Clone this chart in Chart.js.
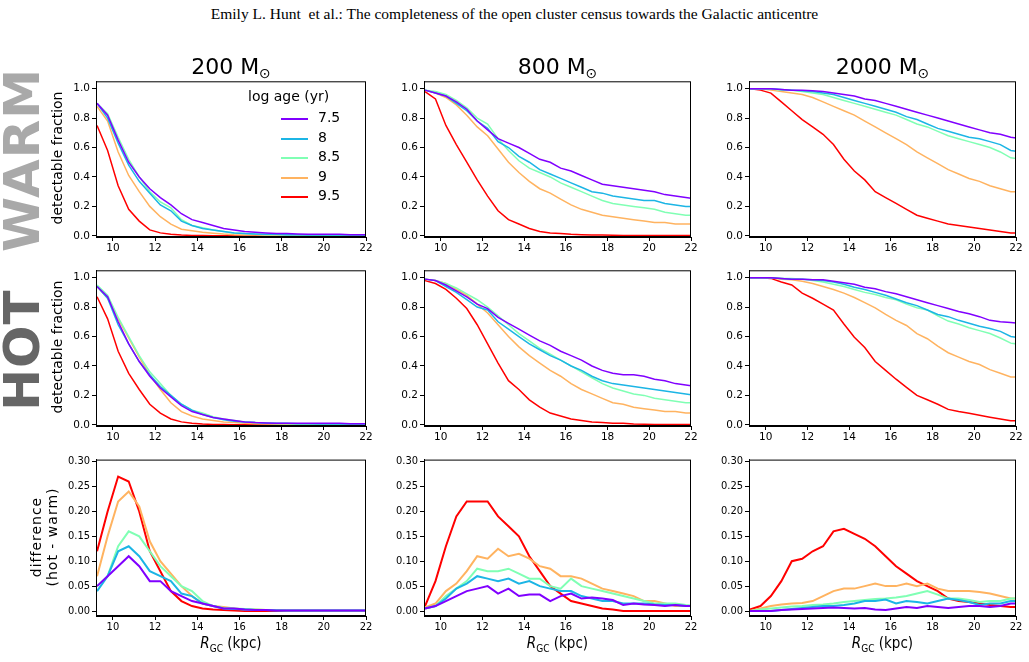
<!DOCTYPE html>
<html><head><meta charset="utf-8">
<script src="https://cdn.jsdelivr.net/npm/chart.js@4"></script>
<style>
body{margin:0;width:1029px;height:662px;background:#fff;position:relative;overflow:hidden;font-family:"DejaVu Sans",sans-serif}
canvas{position:absolute}
.t{position:absolute;white-space:nowrap;color:#000}
.rot{transform:translate(-50%,-50%) rotate(-90deg);transform-origin:center}
</style></head><body>
<div class="t" style="left:0;width:1029px;top:5px;text-align:center;font-family:'Liberation Serif',serif;font-size:15.5px">Emily L. Hunt&nbsp; et al.: The completeness of the open cluster census towards the Galactic anticentre</div>
<script>
const radii=[9.25,9.75,10.25,10.75,11.25,11.75,12.25,12.75,13.25,13.75,14.25,14.75,15.25,15.75,16.25,16.75,17.25,17.75,18.25,18.75,19.25,19.75,20.25,20.75,21.25,21.75,22.25];
const ages=["7.5","8","8.5","9","9.5"];
const colors=["#8000ff","#1cb5e5","#80ffb4","#ffb360","#ff0000"];
const xTicks=[10,12,14,16,18,20,22];
const fracTicks=[0,0.2,0.4,0.6,0.8,1.0];
const diffTicks=[0,0.05,0.10,0.15,0.20,0.25,0.30];
const massTitles=["200","800","2000"];

const warm200=[
[.90,.82,.65,.50,.40,.32,.26,.21,.15,.11,.09,.07,.05,.04,.03,.025,.02,.015,.015,.012,.01,.01,.01,.01,.008,.008,.008],
[.90,.80,.63,.48,.37,.29,.21,.17,.10,.07,.05,.04,.03,.02,.015,.012,.01,.01,.008,.007,.006,.005,.005,.005,.005,.005,.005],
[.90,.83,.67,.52,.40,.30,.23,.19,.11,.07,.055,.04,.03,.02,.015,.01,.008,.007,.006,.005,.005,.005,.004,.004,.004,.004,.004],
[.88,.78,.57,.41,.30,.20,.13,.08,.045,.035,.025,.018,.012,.008,.006,.005,.004,.004,.003,.003,.003,.003,.003,.003,.003,.003,.003],
[.75,.58,.34,.18,.10,.04,.02,.01,.005,.003,.002,.001,.001,0,0,0,0,0,0,0,0,0,0,0,0,0,0]];
const hot200=[
[.94,.87,.70,.55,.43,.33,.25,.19,.13,.09,.07,.05,.04,.03,.02,.015,.012,.01,.01,.01,.01,.01,.01,.01,.008,.008,.008],
[.94,.86,.68,.55,.43,.34,.26,.20,.14,.10,.07,.05,.035,.025,.02,.015,.012,.01,.01,.008,.007,.006,.006,.005,.005,.005,.005],
[.95,.88,.73,.60,.47,.36,.28,.20,.14,.10,.08,.055,.04,.03,.02,.015,.01,.008,.007,.006,.005,.005,.005,.004,.004,.004,.004],
[.94,.86,.72,.59,.46,.34,.24,.15,.09,.06,.04,.03,.02,.015,.01,.008,.006,.005,.004,.004,.003,.003,.003,.003,.003,.003,.003],
[.87,.72,.50,.35,.24,.14,.08,.04,.02,.01,.005,.003,.002,.001,0,0,0,0,0,0,0,0,0,0,0,0,0]];
const diff200=[
[.05,.07,.09,.11,.09,.06,.06,.04,.03,.02,.015,.01,.005,.005,.003,.002,.002,.001,.001,.001,.001,.001,.001,.001,.001,.001,.001],
[.04,.07,.12,.13,.11,.08,.07,.06,.035,.03,.015,.01,.005,.004,.003,.002,.002,.001,.001,.001,.001,.001,.001,.001,.001,.001,.001],
[.05,.07,.13,.16,.15,.12,.09,.07,.05,.04,.02,.01,.006,.005,.004,.003,.002,.002,.001,.001,.001,.001,.001,.001,.001,.001,.001],
[.07,.15,.22,.24,.21,.14,.10,.075,.05,.03,.015,.01,.008,.005,.003,.003,.002,.002,.001,.001,.001,.001,.001,.001,.001,.001,.001],
[.12,.20,.27,.26,.20,.12,.08,.04,.02,.01,.005,.003,.002,.001,0,0,0,0,0,0,0,0,0,0,0,0,0]];

const warm800=[
[.99,.97,.95,.91,.86,.78,.72,.66,.63,.60,.56,.52,.50,.46,.44,.41,.38,.35,.34,.33,.32,.31,.30,.28,.27,.26,.25],
[.99,.97,.95,.90,.85,.78,.73,.64,.60,.54,.50,.45,.42,.39,.36,.33,.30,.29,.27,.26,.25,.24,.24,.22,.21,.20,.20],
[.99,.98,.96,.92,.87,.80,.76,.66,.58,.51,.46,.43,.40,.36,.33,.30,.27,.24,.22,.21,.20,.19,.18,.16,.15,.14,.14],
[.99,.97,.94,.89,.82,.74,.68,.59,.50,.43,.37,.32,.29,.25,.21,.18,.16,.14,.13,.12,.11,.10,.09,.09,.08,.08,.08],
[.98,.93,.75,.62,.50,.38,.27,.17,.11,.08,.05,.03,.02,.015,.01,.008,.006,.005,.004,.003,.003,.002,.002,.002,.002,.002,.002]];
const hot800=[
[.99,.98,.95,.91,.87,.82,.79,.73,.69,.65,.61,.57,.54,.50,.47,.44,.40,.37,.35,.34,.34,.33,.31,.30,.28,.27,.26],
[.99,.98,.94,.90,.85,.80,.78,.70,.65,.60,.55,.51,.47,.44,.40,.37,.33,.30,.28,.27,.26,.25,.24,.23,.22,.21,.20],
[.99,.98,.96,.93,.89,.85,.80,.74,.68,.62,.57,.52,.48,.44,.40,.36,.32,.28,.25,.23,.21,.20,.18,.17,.16,.15,.15],
[.99,.98,.96,.92,.88,.82,.76,.68,.60,.53,.47,.42,.37,.33,.28,.24,.21,.18,.15,.14,.12,.11,.10,.09,.09,.08,.08],
[.98,.96,.92,.86,.79,.68,.55,.42,.30,.24,.17,.12,.08,.06,.04,.03,.02,.015,.01,.01,.005,.004,.003,.003,.002,.002,.002]];
const diff800=[
[.005,.01,.02,.03,.04,.045,.05,.035,.045,.03,.033,.033,.02,.03,.035,.025,.027,.025,.022,.012,.015,.013,.012,.01,.012,.01,.01],
[.005,.01,.025,.045,.055,.07,.065,.06,.065,.055,.06,.05,.045,.04,.04,.03,.025,.02,.02,.015,.015,.015,.013,.012,.012,.01,.01],
[.005,.01,.03,.045,.06,.085,.08,.08,.085,.075,.065,.065,.05,.045,.065,.05,.045,.04,.035,.03,.025,.02,.015,.015,.015,.012,.01],
[.007,.015,.04,.055,.08,.11,.105,.125,.11,.115,.105,.09,.085,.07,.07,.065,.055,.045,.04,.035,.03,.02,.02,.015,.01,.01,.01],
[.01,.06,.13,.19,.22,.22,.22,.19,.17,.15,.11,.08,.05,.035,.02,.015,.01,.005,.003,0,0,0,0,0,0,0,0]];

const warm2000=[
[1,1,1,.995,.99,.99,.985,.98,.97,.96,.95,.93,.92,.90,.88,.86,.84,.82,.80,.78,.76,.74,.72,.70,.69,.67,.66],
[1,1,1,.995,.99,.985,.98,.97,.96,.94,.92,.90,.88,.86,.84,.81,.79,.76,.73,.71,.69,.67,.66,.64,.62,.58,.57],
[1,1,1,.99,.99,.98,.97,.96,.94,.92,.90,.88,.86,.84,.82,.79,.76,.74,.71,.68,.66,.64,.62,.60,.57,.53,.52],
[1,1,.99,.98,.97,.96,.94,.91,.88,.85,.82,.78,.74,.70,.66,.62,.57,.53,.49,.45,.42,.39,.37,.34,.32,.30,.30],
[1,.99,.97,.91,.85,.79,.74,.69,.62,.52,.44,.38,.30,.26,.22,.18,.14,.12,.10,.08,.07,.06,.05,.04,.03,.02,.02]];
const hot2000=[
[1,1,1,.995,.99,.99,.985,.985,.975,.965,.955,.935,.925,.905,.89,.87,.85,.83,.81,.79,.77,.755,.735,.71,.70,.695,.69],
[1,1,1,.995,.99,.99,.985,.98,.97,.955,.935,.92,.90,.88,.855,.83,.81,.78,.75,.735,.71,.69,.67,.655,.635,.60,.59],
[1,1,1,.995,.995,.99,.98,.97,.955,.94,.92,.90,.885,.865,.85,.82,.795,.78,.74,.705,.685,.66,.64,.62,.59,.555,.545],
[1,1,1,.99,.985,.975,.96,.94,.92,.895,.865,.83,.795,.75,.71,.675,.62,.585,.535,.49,.46,.43,.41,.375,.35,.325,.325],
[1,1,.995,.97,.95,.895,.86,.82,.78,.685,.595,.525,.43,.37,.31,.255,.2,.17,.14,.105,.09,.078,.065,.052,.04,.028,.028]];
const diff2000=[
[0,0,0,.002,.003,.004,.005,.006,.007,.006,.005,.006,.003,.002,.005,.008,.006,.01,.008,.006,.008,.01,.01,.008,.01,.015,.015],
[0,0,0,.002,.004,.006,.008,.01,.01,.012,.015,.02,.02,.023,.015,.02,.018,.015,.02,.025,.022,.018,.012,.015,.015,.02,.02],
[0,.003,.005,.007,.009,.01,.012,.013,.015,.018,.02,.022,.024,.025,.027,.03,.035,.04,.033,.025,.025,.022,.018,.02,.02,.025,.025],
[0,.005,.01,.013,.015,.016,.02,.03,.04,.045,.045,.05,.055,.05,.05,.055,.05,.055,.045,.04,.04,.04,.038,.035,.03,.025,.025],
[.003,.01,.03,.06,.10,.105,.12,.13,.16,.165,.155,.145,.13,.11,.09,.075,.06,.05,.04,.025,.02,.018,.015,.012,.01,.008,.008]];

const colX=[[96,366],[424,691],[749,1016]];
const rowY=[[79,237],[268,426],[457,616]];
const panels=[[warm200,warm800,warm2000],[hot200,hot800,hot2000],[diff200,diff800,diff2000]];

const frame={id:'frame',afterDraw(c){const a=c.chartArea,x=c.ctx;x.save();x.strokeStyle='#000';x.lineWidth=1;x.strokeRect(a.left+.5,a.top+.5,a.right-a.left-1,a.bottom-a.top-1);x.restore();}};
const YW=40,XH=20,PT=6,PR=8;
for(let r=0;r<3;r++)for(let c=0;c<3;c++){
  const [l,rt]=colX[c],[tp,bt]=rowY[r];
  const cv=document.createElement('canvas');
  const w=rt-l+YW+PR,h=bt-tp+PT+XH;
  cv.style.left=(l-YW)+'px';cv.style.top=(tp-PT)+'px';cv.style.width=w+'px';cv.style.height=h+'px';
  cv.width=w;cv.height=h;document.body.appendChild(cv);
  const diff=r===2;
  const font=diff?{family:"'DejaVu Sans Condensed','DejaVu Sans'",size:11}:{family:"DejaVu Sans",size:10.5};
  new Chart(cv,{type:'line',
    data:{datasets:panels[r][c].map((v,i)=>({label:ages[i],data:radii.map((x,j)=>({x,y:v[j]})),borderColor:colors[i],borderWidth:diff?2:1.5,pointRadius:0,tension:0,fill:false}))},
    options:{animation:false,responsive:false,devicePixelRatio:1,layout:{padding:{top:PT,right:PR,left:0,bottom:0}},
      plugins:{legend:{display:false},tooltip:{enabled:false}},
      scales:{
        x:{type:'linear',min:9.2,max:22,afterBuildTicks:s=>{s.ticks=xTicks.map(v=>({value:v}))},afterFit:s=>{s.height=XH},
           grid:{display:true,drawOnChartArea:false,drawTicks:true,tickLength:4,color:'#000'},border:{color:'#000'},
           ticks:{color:'#000',font,maxRotation:0,padding:1,callback:v=>String(v)}},
        y:{min:diff?-0.01:-0.008,max:diff?0.304:1.05,afterBuildTicks:s=>{s.ticks=(diff?diffTicks:fracTicks).map(v=>({value:v}))},afterFit:s=>{s.width=YW},
           grid:{display:true,drawOnChartArea:false,drawTicks:true,tickLength:4,color:'#000'},border:{color:'#000'},
           ticks:{color:'#000',font,padding:2,callback:v=>v.toFixed(diff?2:1)}}
      }},plugins:[frame]});
}
function add(html,style,cls){const d=document.createElement('div');d.className='t '+(cls||'');d.style.cssText=style;d.innerHTML=html;document.body.appendChild(d);return d;}
massTitles.forEach((m,c)=>{const cx=(colX[c][0]+colX[c][1])/2;add(m+' M<sub style="font-size:14px;vertical-align:-4px">⊙</sub>',`left:${cx}px;top:54px;transform:translateX(-50%);font-size:22px`);});
add('WARM','left:22px;top:160px;font-size:50px;font-weight:bold;color:#a9a9a9;letter-spacing:1px','rot');
add('HOT','left:22px;top:350px;font-size:50px;font-weight:bold;color:#666;letter-spacing:1px','rot');
add('detectable fraction','left:57px;top:158px;font-size:14px','rot');
add('detectable fraction','left:57px;top:347px;font-size:14px','rot');
add('difference<br>(hot - warm)','left:44px;top:537px;font-size:14px;text-align:center;line-height:16px;letter-spacing:1px','rot');
colX.forEach(([a,b])=>add('<i>R</i><sub style="font-size:10px">GC</sub> (kpc)',`left:${(a+b)/2}px;top:634px;transform:translateX(-50%);font-size:15px;font-family:'DejaVu Sans Condensed','DejaVu Sans'`));
add('log age (yr)','left:248px;top:88px;font-size:14px');
ages.forEach((a,i)=>{const y=118+i*19.5;add('','left:281px;top:'+(y)+'px;width:27px;height:2px;background:'+colors[i]);add(a,'left:318px;top:'+(y-9)+'px;font-size:14px');});
</script></body></html>
